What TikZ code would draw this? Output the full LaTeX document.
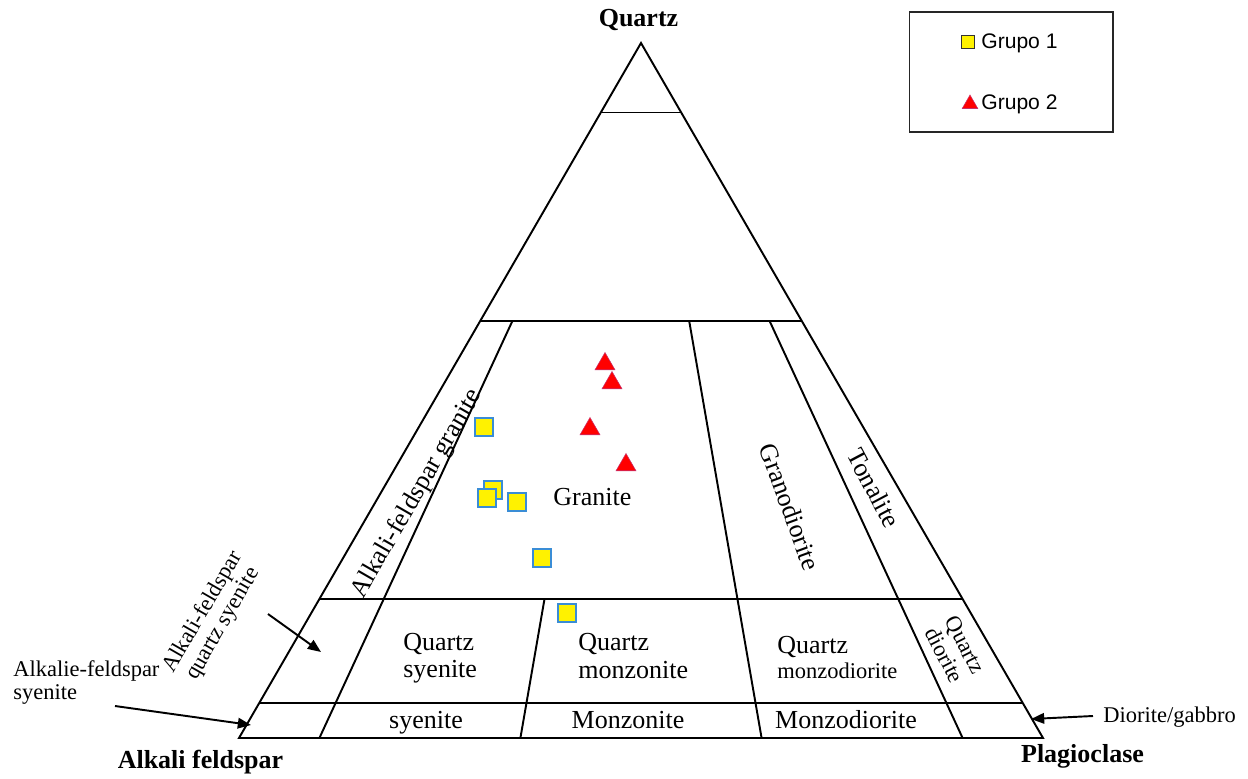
\documentclass[tikz,border=0pt]{standalone}
\usepackage{fontspec}
\setmainfont{Liberation Serif}
\newfontfamily\legendfont{Liberation Sans}
\usetikzlibrary{arrows.meta,shapes.geometric}
\definecolor{sqblue}{HTML}{3A8DD6}
\definecolor{triedge}{HTML}{C8306A}
\begin{document}
\begin{tikzpicture}[x=0.02cm,y=-0.02cm,
  edge/.style={line width=1.1pt, line join=miter},
  lbl/.style={inner sep=0pt, font=\fontsize{14.8pt}{17pt}\selectfont},
  slbl/.style={inner sep=0pt, font=\fontsize{12.8pt}{13.2pt}\selectfont},
  blbl/.style={inner sep=0pt, font=\fontsize{14.8pt}{17pt}\selectfont\bfseries},
  leg/.style={inner sep=0pt, font=\legendfont\fontsize{12pt}{14pt}\selectfont},
  sq/.style={rectangle, draw=sqblue, fill=yellow, line width=0.9pt, minimum size=0.37cm, inner sep=0pt},
  tri/.style={regular polygon, regular polygon sides=3, fill=red, draw=triedge, line width=0.3pt, minimum size=0.46cm, inner sep=0pt},
  pointer/.style={line width=1.1pt, -{Triangle[length=7.5pt,width=6pt]}},
]
\useasboundingbox (0,0) rectangle (1248,778);

% vertices
\coordinate (A) at (239,738);
\coordinate (P) at (1043,738);
\coordinate (Q) at (641,43);
% horizontal lines
\coordinate (q90L) at (600.8,112.5);  \coordinate (q90R) at (681.2,112.5);
\coordinate (q60L) at (480.2,321);    \coordinate (q60R) at (801.8,321);
\coordinate (q20L) at (319.4,599);    \coordinate (q20R) at (962.6,599);
\coordinate (q05L) at (259.1,703.25); \coordinate (q05R) at (1022.9,703.25);
% ratio lines
\coordinate (r10t) at (512.4,321); \coordinate (r10b) at (319.4,738);
\coordinate (r35t) at (544.5,599); \coordinate (r35b) at (520.4,738);
\coordinate (r65t) at (689.2,321); \coordinate (r65b) at (761.6,738);
\coordinate (r90t) at (769.6,321); \coordinate (r90b) at (962.6,738);

\draw[edge] (A) -- (P) -- (Q) -- cycle;
\draw[edge] (q90L) -- (q90R);
\draw[edge] (q60L) -- (q60R);
\draw[edge] (q20L) -- (q20R);
\draw[edge] (q05L) -- (q05R);
\draw[edge] (r10t) -- (r10b);
\draw[edge] (r35t) -- (r35b);
\draw[edge] (r65t) -- (r65b);
\draw[edge] (r90t) -- (r90b);

% corner labels
\node[blbl, anchor=base] (lq) at (638.5,26) {Quartz};
\node[blbl, anchor=base] (la) at (200.5,768) {Alkali feldspar};
\node[blbl, anchor=base] (lp) at (1082.5,762) {Plagioclase};

% field labels
\node[lbl, anchor=base west] (gr) at (553,505) {Granite};
\node[lbl, rotate=60] (afg) at (417,494) {Alkali-feldspar granite};
\node[lbl, rotate=-70] (gd) at (790,507) {Granodiorite};
\node[lbl, rotate=-62] (ton) at (874,488) {Tonalite};
\node[lbl, anchor=base west] (qs1) at (403,650) {Quartz};
\node[lbl, anchor=base west] (qs2) at (403,677) {syenite};
\node[lbl, anchor=base west] (qm1) at (578,650) {Quartz};
\node[lbl, anchor=base west] (qm2) at (578,678) {monzonite};
\node[lbl, anchor=base west] (qmd1) at (777,653) {Quartz};
\node[slbl, anchor=base west] (qmd2) at (777,678) {monzodiorite};
\node[slbl, rotate=-63, align=center] (qd) at (955,650) {Quartz\\diorite};
\node[lbl, anchor=base] (sy) at (426,728) {syenite};
\node[lbl, anchor=base] (mz) at (628,728) {Monzonite};
\node[lbl, anchor=base] (mzd) at (846,728) {Monzodiorite};

% outside labels with pointers
\node[slbl, rotate=60, align=center] (afqs) at (213,618) {Alkali-feldspar\\quartz syenite};
\node[slbl, anchor=base west] (afs1) at (13,676) {Alkalie-feldspar};
\node[slbl, anchor=base west] (afs2) at (13,699) {syenite};
\node[slbl, anchor=base west] (dg) at (1103,722) {Diorite/gabbro};

\coordinate (p1s) at (268,614); \coordinate (p1e) at (321,652);
\coordinate (p2s) at (115,706); \coordinate (p2e) at (251,725);
\coordinate (p3s) at (1093,716); \coordinate (p3e) at (1031,719);
\draw[pointer] (p1s) -- (p1e);
\draw[pointer] (p2s) -- (p2e);
\draw[pointer] (p3s) -- (p3e);

% data points: Grupo 1
\node[sq] (s1) at (484,427) {};
\node[sq] (s2) at (493,490) {};
\node[sq] (s3) at (487,498) {};
\node[sq] (s4) at (517,502) {};
\node[sq] (s5) at (542,558) {};
\node[sq] (s6) at (567,613) {};
% data points: Grupo 2
\node[tri] (t1) at (605,364) {};
\node[tri] (t2) at (612,383) {};
\node[tri] (t3) at (590,429) {};
\node[tri] (t4) at (626,465) {};

% legend
\node[draw=black!85, line width=0.6pt, minimum width=4.08cm, minimum height=2.4cm, inner sep=0pt] (legbox) at (1011,72) {};
\node[rectangle, draw=black!80, fill=yellow, line width=0.5pt, minimum size=0.25cm, inner sep=0pt] (lsq) at (968,42) {};
\node[regular polygon, regular polygon sides=3, fill=red, draw=triedge, line width=0.3pt, minimum size=0.36cm, inner sep=0pt] (ltri) at (970,104) {};
\node[leg, anchor=base west] (lg1) at (981,48) {Grupo 1};
\node[leg, anchor=base west] (lg2) at (981,109) {Grupo 2};
\end{tikzpicture}
\end{document}
